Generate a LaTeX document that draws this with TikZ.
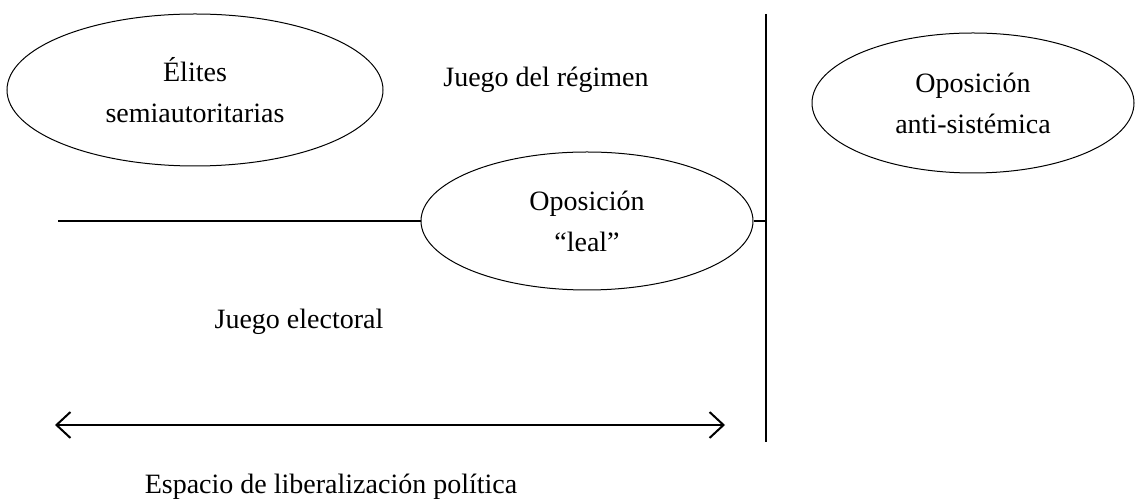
\documentclass[tikz,border=0pt]{standalone}
\usepackage{fontspec}
\setmainfont{Liberation Serif}
\usetikzlibrary{shapes.geometric,arrows.meta}

\begin{document}
\begin{tikzpicture}[x=0.5pt, y=-0.5pt,
		font=\fontsize{14}{20.5}\selectfont,
		actor/.style={ellipse, draw, line width=0.5pt, inner sep=0pt, align=center},
		frontera/.style={line width=1pt}]
		\useasboundingbox (0,0) rectangle (1135,501);

		\draw 
		(195, 90) node [actor, minimum width=188pt, minimum height=76pt] (elites) {Élites\\semiautoritarias}
		(973, 103) node [actor, minimum width=161pt, minimum height=70pt] (antisist) {Oposición\\anti-sistémica}
		(587, 221) node [actor, minimum width=166pt, minimum height=69pt] (leal) {Oposición\\``leal''};

		\draw 
		(546, 80) node (regimen) {Juego del régimen}
		(299, 322) node (electoral) {Juego electoral}
		(331, 487) node (espacio) {Espacio de liberalización política};

		\coordinate (lnini) at (58, 221);
		\coordinate (vsup) at (766, 14);
		\coordinate (vinf) at (766, 442);
		\coordinate (vmed) at (766, 221);
		\coordinate (flizq) at (55, 425);
		\coordinate (flder) at (725, 425);

		\draw[frontera] (vsup) -- (vinf);
		\draw[frontera] (lnini) -- (leal.west);
		\draw[frontera] (leal.east) -- (vmed);
		\draw[frontera, {Straight Barb[length=7pt, width=13pt]}-{Straight Barb[length=7pt, width=13pt]}] (flizq) -- (flder);
	\end{tikzpicture}
\end{document}
